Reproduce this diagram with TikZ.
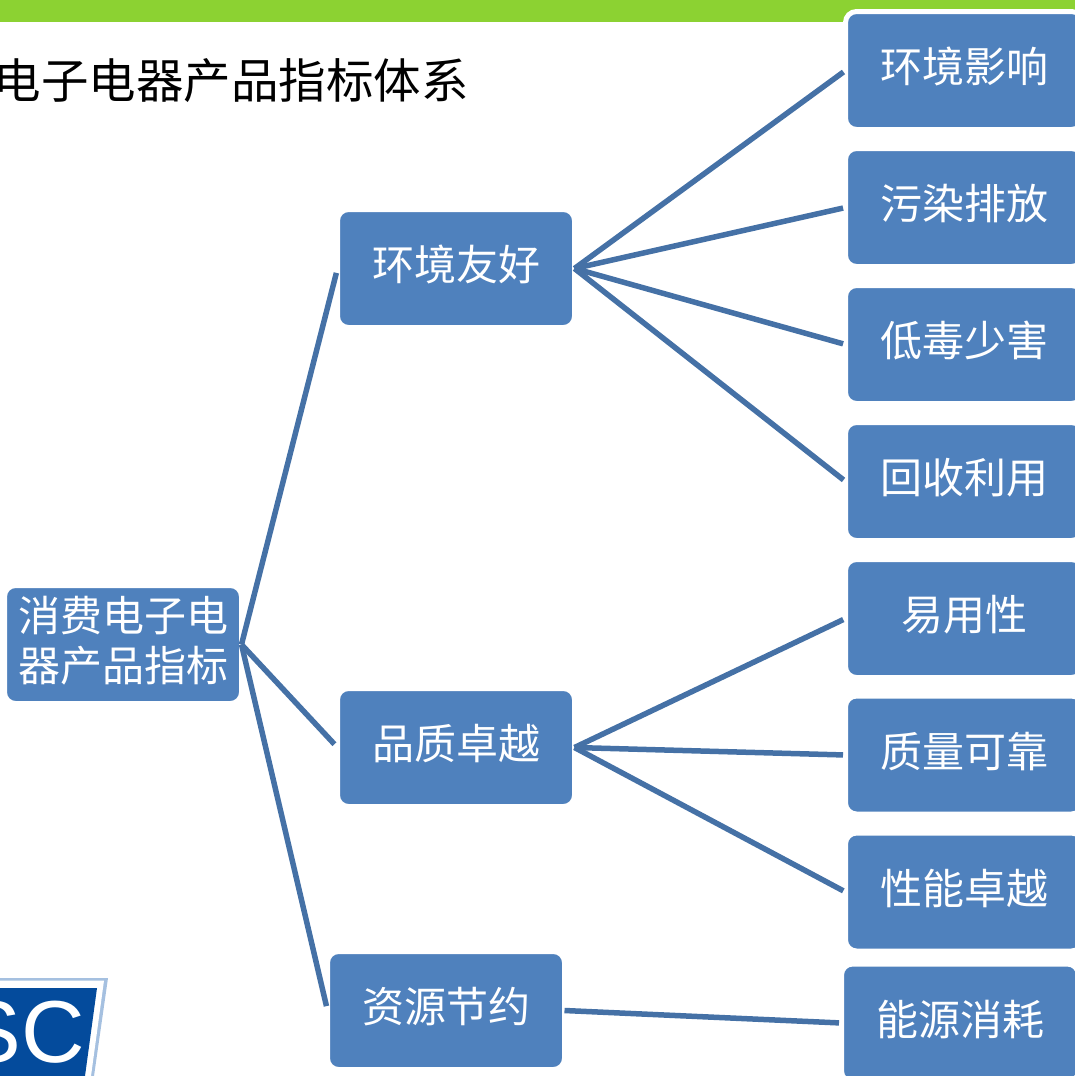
\documentclass[tikz,border=0pt]{standalone}
\usepackage{fontspec}
\usepackage{xcolor}
\setmainfont{Liberation Sans}
\newfontfamily\cjk{Noto Sans CJK SC}
\definecolor{boxblue}{HTML}{4F81BD}
\definecolor{linkblue}{HTML}{4571A6}
\definecolor{barlime}{HTML}{8CD232}
\definecolor{logoblue}{HTML}{044B9C}
\definecolor{logoedge}{HTML}{A5C0E0}
\begin{document}
\begin{tikzpicture}[x=1pt, y=-1pt,
main node/.style={rectangle, rounded corners=11pt, fill=boxblue, draw=white, line width=5pt, outer sep=0pt, inner sep=0pt, minimum width=237pt, minimum height=118pt, text=white, align=center, font=\cjk\fontsize{42}{50}\selectfont, execute at end node={\rule[-11pt]{0pt}{1pt}}},
trunk/.style={draw=linkblue, line width=5.5pt, shorten >=4.5pt},
twig/.style={draw=linkblue, line width=5.5pt, shorten >=2.5pt}]
\useasboundingbox (0,0) rectangle (1075,1076);
% top bar and title
\fill[barlime] (0,0) rectangle (1075,22);
\node[anchor=east, inner sep=0pt, font=\cjk\fontsize{47.5}{50}\selectfont] (title) at (469,81) {电子电器产品指标体系};
% logo
\fill[logoedge] (0,978) -- (108,978) -- (94,1076) -- (0,1076) -- cycle;
\fill[white] (0,980.5) -- (104,980.5) -- (91,1076) -- (0,1076) -- cycle;
\fill[logoblue] (0,988) -- (97,988) -- (85,1076) -- (0,1076) -- cycle;
\node[anchor=east, inner sep=0pt, text=white, font=\fontsize{88}{88}\selectfont] (logo) at (85,1032) {SC};
% boxes
\node[main node] (root) at (123,644.5) {消费电子电\\器产品指标};
\node[main node] (green) at (456,268.5) {环境友好};
\node[main node] (quality) at (456,747.5) {品质卓越};
\node[main node] (saving) at (446,1010.5) {资源节约};
\node[main node] (impact) at (964,70.5) {环境影响};
\node[main node] (pollution) at (964,207.5) {污染排放};
\node[main node] (toxic) at (964,344.5) {低毒少害};
\node[main node] (recycle) at (964,481.5) {回收利用};
\node[main node] (usable) at (964,618.5) {易用性};
\node[main node] (reliable) at (964,755) {质量可靠};
\node[main node] (perform) at (964,892) {性能卓越};
\node[main node] (energy) at (960,1023) {能源消耗};
\path[trunk]
(root.east) edge (green.west)
(root.east) edge (quality.west)
(root.east) edge (saving.west);
\path[twig]
(green.east) edge (impact.west)
(green.east) edge (pollution.west)
(green.east) edge (toxic.west)
(green.east) edge (recycle.west)
(quality.east) edge (usable.west)
(quality.east) edge (reliable.west)
(quality.east) edge (perform.west)
(saving.east) edge (energy.west);
\end{tikzpicture}
\end{document}
